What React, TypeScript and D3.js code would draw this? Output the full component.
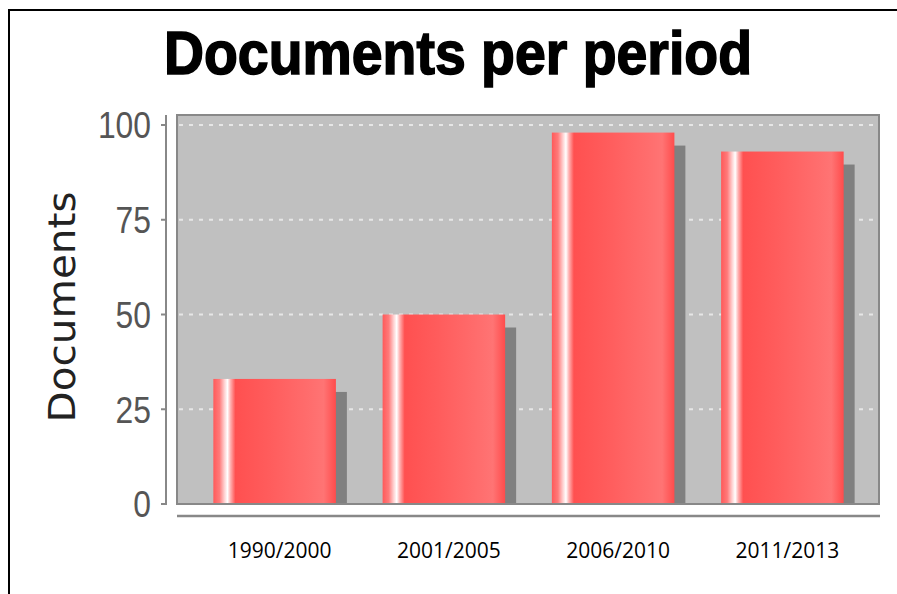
import React from "react";
import * as d3 from "d3";

const categories = ["1990/2000", "2001/2005", "2006/2010", "2011/2013"];
const documents = [33, 50, 98, 93];
const yTicks = [0, 25, 50, 75, 100];
const gridTicks = [25, 50, 75, 100];
const title = "Documents per period";
const yLabel = "Documents";

const W = 897;
const H = 594;
const plot = { left: 177, top: 115, right: 879, bottom: 504 };

export default function App() {
  const y = d3.scaleLinear().domain([0, 102.64]).range([plot.bottom, plot.top]);
  const x = d3
    .scaleBand<string>()
    .domain(categories)
    .range([190, 867])
    .paddingInner(0.276)
    .paddingOuter(0.138);
  const bw = x.bandwidth();
  const shadowDx = 11;
  const shadowDy = 13;

  return (
    <svg
      width={W}
      height={H}
      style={{ position: "absolute", left: 0, top: 0, display: "block" }}
    >
      <defs>
        <linearGradient id="barGrad" x1="0" y1="0" x2="1" y2="0">
          <stop offset="0%" stopColor="#ff5a5a" />
          <stop offset="5%" stopColor="#ff7a7a" />
          <stop offset="9%" stopColor="#ffd0d0" />
          <stop offset="11.5%" stopColor="#ffffff" />
          <stop offset="14%" stopColor="#ffb0b0" />
          <stop offset="18%" stopColor="#ff5050" />
          <stop offset="45%" stopColor="#ff5c5c" />
          <stop offset="80%" stopColor="#ff6e6e" />
          <stop offset="90%" stopColor="#ff7474" />
          <stop offset="100%" stopColor="#ff4c4c" />
        </linearGradient>
        <clipPath id="plotClip">
          <rect
            x={plot.left}
            y={plot.top}
            width={plot.right - plot.left}
            height={plot.bottom - plot.top}
          />
        </clipPath>
      </defs>
      <rect x={0} y={0} width={W} height={H} fill="#ffffff" />
      {/* outer frame */}
      <path d={`M9,${H} V10 H${W}`} fill="none" stroke="#000" strokeWidth={2} />

      {/* title */}
      <text
        x={(163 + 753) / 2}
        y={74}
        textAnchor="middle"
        fontFamily="'Liberation Sans', Arial, sans-serif"
        fontWeight="bold"
        fontSize={61}
        textLength={588}
        lengthAdjust="spacingAndGlyphs"
        fill="#000"
        stroke="#000"
        strokeWidth={1.6}
      >
        {title}
      </text>

      {/* plot background */}
      <rect
        x={plot.left}
        y={plot.top}
        width={plot.right - plot.left}
        height={plot.bottom - plot.top}
        fill="#c0c0c0"
      />
      {gridTicks.map((t) => (
        <line
          key={t}
          x1={plot.left + 2}
          x2={plot.right}
          y1={y(t)}
          y2={y(t)}
          stroke="#e6e6e6"
          strokeWidth={2}
          strokeDasharray="4 6"
        />
      ))}

      {/* bars */}
      <g clipPath="url(#plotClip)">
        {categories.map((c, i) => (
          <rect
            key={"s" + c}
            x={(x(c) as number) + shadowDx}
            y={y(documents[i]) + shadowDy}
            width={bw}
            height={plot.bottom - y(documents[i]) - shadowDy}
            fill="#808080"
          />
        ))}
        {categories.map((c, i) => (
          <rect
            key={"b" + c}
            x={x(c) as number}
            y={y(documents[i])}
            width={bw}
            height={plot.bottom - y(documents[i])}
            fill="url(#barGrad)"
          />
        ))}
      </g>

      {/* plot border */}
      <rect
        x={plot.left}
        y={plot.top}
        width={plot.right - plot.left}
        height={plot.bottom - plot.top}
        fill="none"
        stroke="#888"
        strokeWidth={2}
      />

      {/* y axis */}
      <line x1={166} x2={166} y1={plot.top} y2={plot.bottom + 1} stroke="#888" strokeWidth={2} />
      {yTicks.map((t) => (
        <g key={t}>
          <line x1={161} x2={166} y1={y(t)} y2={y(t)} stroke="#888" strokeWidth={2} />
          <text
            x={151}
            y={y(t)}
            dy="0.36em"
            textAnchor="end"
            fontFamily="'Liberation Sans', Arial, sans-serif"
            fontSize={37}
            textLength={String(t).length * 17.7}
            lengthAdjust="spacingAndGlyphs"
            fill="#555"
          >
            {t}
          </text>
        </g>
      ))}
      <text
        transform={`translate(75, 307) rotate(-90)`}
        textAnchor="middle"
        fontFamily="'DejaVu Sans', sans-serif"
        fontSize={37}
        textLength={231}
        lengthAdjust="spacingAndGlyphs"
        fill="#222"
      >
        {yLabel}
      </text>

      {/* category axis line */}
      <line x1={plot.left} x2={880} y1={516} y2={516} stroke="#888" strokeWidth={2.5} />
      {categories.map((c) => (
        <text
          key={"l" + c}
          x={(x(c) as number) + bw / 2 + 5}
          y={558}
          textAnchor="middle"
          fontFamily="'Open Sans', sans-serif"
          fontSize={21}
          fill="#000"
        >
          {c}
        </text>
      ))}
    </svg>
  );
}
